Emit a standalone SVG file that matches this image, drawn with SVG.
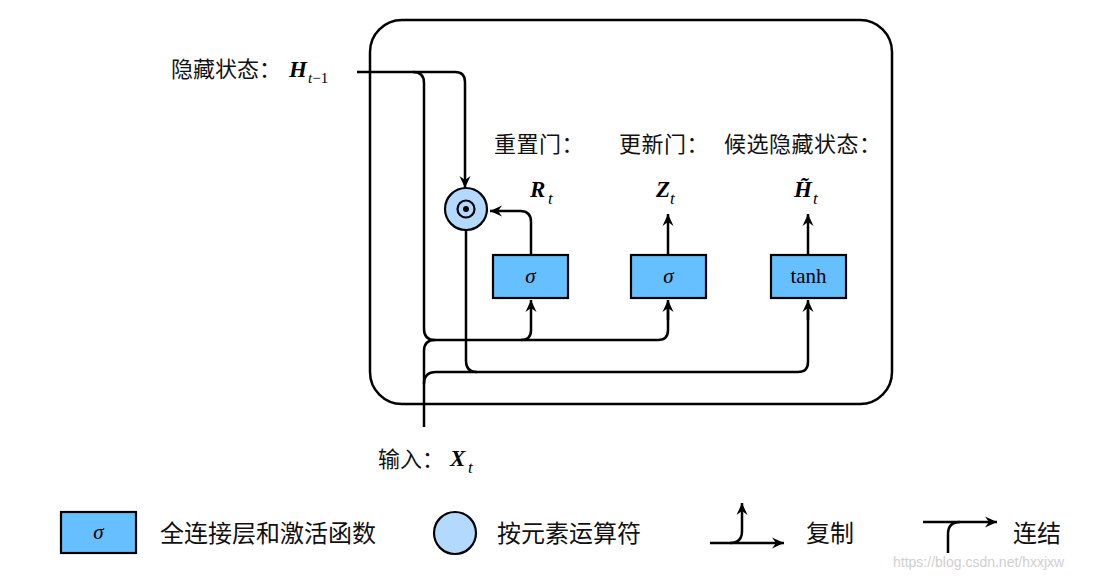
<svg xmlns="http://www.w3.org/2000/svg" width="1096" height="580" viewBox="0 0 1096 580">
<style>
.cn{font-family:"Noto Sans CJK SC","Noto Sans",sans-serif;fill:#111}
.m{font-family:"Liberation Serif",serif;font-style:italic;font-weight:bold;fill:#000}
.s{font-family:"Liberation Serif",serif;font-style:italic;fill:#000}
.box{fill:#66bfff;stroke:#000;stroke-width:2.2}
.op{fill:#b3d9ff;stroke:#000;stroke-width:2.2}
.ln{fill:none;stroke:#000;stroke-width:2.5}
.ar{fill:none;stroke:#000;stroke-width:2.5;marker-end:url(#ah)}
</style>
<defs>
<marker id="ah" viewBox="-12 -6 13 12" markerWidth="13" markerHeight="12" markerUnits="userSpaceOnUse" refX="0" refY="0" orient="auto">
<path d="M0,0 L-12,-5.5 L-8,0 L-12,5.5 Z" fill="#000"/>
</marker>
</defs>
<rect width="1096" height="580" fill="#fff"/>
<rect id="frame" x="370" y="20" width="522" height="384" rx="32" fill="none" stroke="#000" stroke-width="2.5"/>

<g id="connectors">
<path class="ar" d="M357,72 H455 Q465,72 465,82 V188"/>
<path class="ln" d="M413,72 Q424,72 424,83 V329 Q424,340 435,340 H658 Q668,340 668,330 V302"/>
<path class="ar" d="M668,320 V300"/>
<path class="ar" d="M521,340 Q531,340 531,330 V300"/>
<path class="ln" d="M424,427 V351 Q424,340 435,340"/>
<path class="ln" d="M424,384 Q424,372 436,372 H798 Q808,372 808,362 V310"/>
<path class="ar" d="M808,320 V300"/>
<path class="ln" d="M466,230 V361 Q466,372 477,372"/>
<path class="ar" d="M531,255 V222 Q531,211 520,211 H490"/>
<path class="ar" d="M668,255 V214"/>
<path class="ar" d="M808,255 V214"/>
</g>

<g id="op">
<circle class="op" cx="466" cy="209" r="21"/>
<circle cx="466" cy="209" r="8.5" fill="none" stroke="#000" stroke-width="2.2"/>
<circle cx="466" cy="209" r="3" fill="#000"/>
</g>
<g id="gate-r">
<rect class="box" x="493" y="255" width="75" height="43"/>
<text class="s" x="530.5" y="283" font-size="21" text-anchor="middle">σ</text>
</g>
<g id="gate-z">
<rect class="box" x="631" y="255" width="75" height="43"/>
<text class="s" x="668.5" y="283" font-size="21" text-anchor="middle">σ</text>
</g>
<g id="cand">
<rect class="box" x="771" y="255" width="75" height="43"/>
<text x="808.5" y="283" font-size="21" text-anchor="middle" font-family="Liberation Serif,serif">tanh</text>
</g>

<g id="labels">
<text class="cn" x="171" y="77" font-size="22">隐藏状态：</text>
<text class="m" x="289" y="77" font-size="23">H</text>
<text x="308" y="83" font-size="15" font-family="Liberation Serif,serif"><tspan font-style="italic">t</tspan>−1</text>
<text class="cn" x="494" y="152" font-size="22" letter-spacing="0.5">重置门：</text>
<text class="cn" x="619" y="152" font-size="22" letter-spacing="0.5">更新门：</text>
<text class="cn" x="724" y="152" font-size="22" letter-spacing="0.5">候选隐藏状态：</text>
<text class="m" x="530" y="197" font-size="23">R</text>
<text class="s" x="548" y="204" font-size="17">t</text>
<text class="m" x="656" y="197" font-size="23">Z</text>
<text class="s" x="670" y="204" font-size="17">t</text>
<text class="m" x="794" y="197" font-size="23">H&#x303;</text>
<text class="s" x="813" y="204" font-size="17">t</text>
<text class="cn" x="378" y="467" font-size="22">输入：</text>
<text class="m" x="450" y="466" font-size="23">X</text>
<text class="s" x="468" y="473" font-size="17">t</text>
</g>

<g id="legend">
<rect class="box" x="61" y="512" width="75" height="41"/>
<text class="s" x="98.5" y="539" font-size="21" text-anchor="middle">σ</text>
<text class="cn" x="160" y="542" font-size="24">全连接层和激活函数</text>
<circle class="op" cx="455" cy="533" r="21"/>
<text class="cn" x="497" y="542" font-size="24">按元素运算符</text>
<path class="ar" d="M710,543 H784"/>
<path class="ar" d="M730,543 Q742,543 742,531 V503"/>
<text class="cn" x="806" y="542" font-size="24">复制</text>
<path class="ar" d="M923,522 H997"/>
<path class="ln" d="M948,553 V534 Q948,522 960,522"/>
<text class="cn" x="1013" y="542" font-size="24">连结</text>
</g>
<text x="893" y="567" font-size="14" font-family="Liberation Sans,Arial,sans-serif" fill="#cfcfcf">https://blog.csdn.net/hxxjxw</text>
</svg>
